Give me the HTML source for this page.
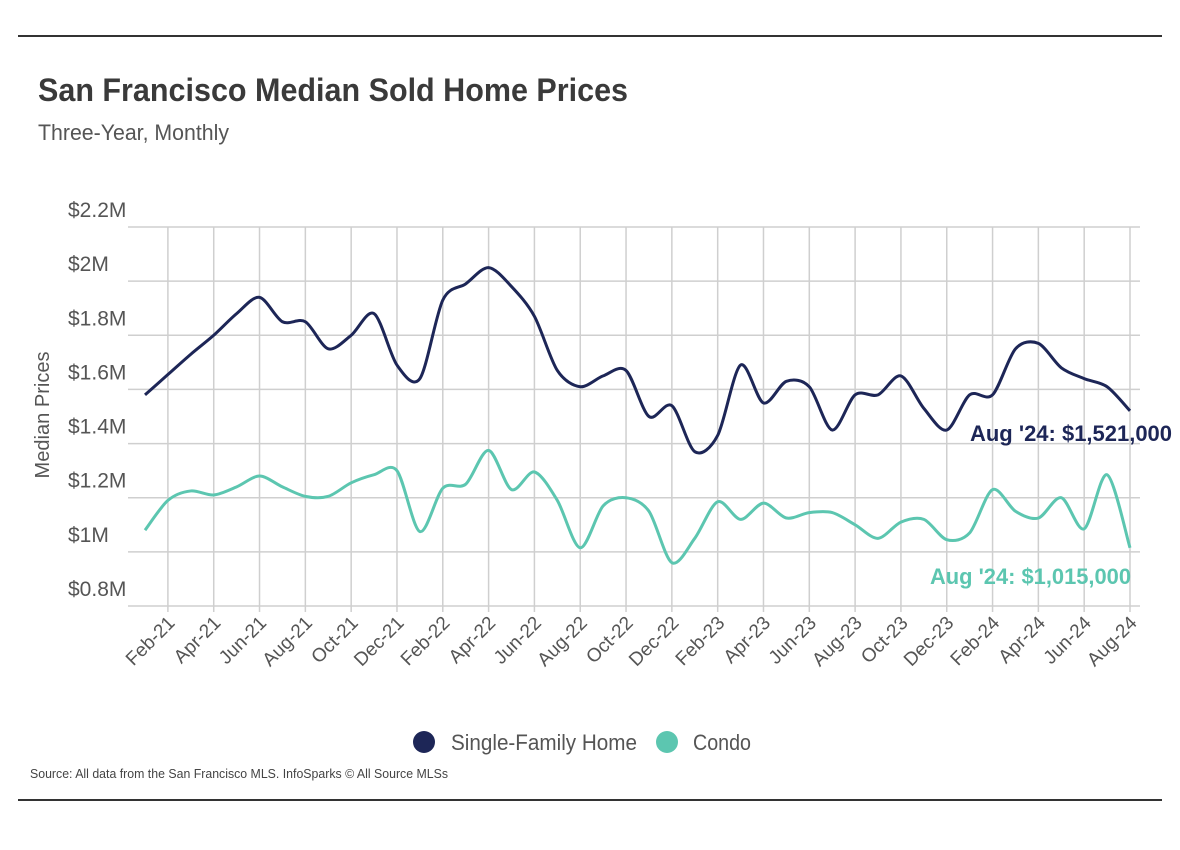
<!DOCTYPE html>
<html><head><meta charset="utf-8"><style>
html,body{margin:0;padding:0;background:#fff;width:1180px;height:850px;overflow:hidden}
text{font-family:"Liberation Sans Narrow","Liberation Sans",sans-serif}
</style></head><body>
<svg id="chart" width="1180" height="850" viewBox="0 0 1180 850" xmlns="http://www.w3.org/2000/svg">
<line x1="18" y1="36" x2="1162" y2="36" stroke="#333" stroke-width="2"/>
<line x1="18" y1="800" x2="1162" y2="800" stroke="#333" stroke-width="2"/>
<text x="38" y="101" font-size="32" font-weight="bold" fill="#3a3a3a" textLength="590" lengthAdjust="spacingAndGlyphs">San Francisco Median Sold Home Prices</text>
<text x="38" y="140" font-size="22" fill="#555" textLength="191" lengthAdjust="spacingAndGlyphs">Three-Year, Monthly</text>
<text transform="translate(49,415) rotate(-90)" text-anchor="middle" font-size="20" fill="#555" textLength="127" lengthAdjust="spacingAndGlyphs">Median Prices</text>
<g id="grid"></g><g id="yticks"></g><g id="xticks"></g><g id="series"></g>
<text x="1172" y="441" text-anchor="end" font-size="22" font-weight="bold" fill="#1d2657" textLength="202" lengthAdjust="spacingAndGlyphs">Aug '24: $1,521,000</text>
<text x="1131" y="584" text-anchor="end" font-size="22" font-weight="bold" fill="#5cc6b0" textLength="201" lengthAdjust="spacingAndGlyphs">Aug '24: $1,015,000</text>
<g>
<circle cx="424" cy="742" r="11" fill="#1d2657"/>
<text x="451" y="750" font-size="22" fill="#555" textLength="186" lengthAdjust="spacingAndGlyphs">Single-Family Home</text>
<circle cx="667" cy="742" r="11" fill="#5cc6b0"/>
<text x="693" y="750" font-size="22" fill="#555" textLength="58" lengthAdjust="spacingAndGlyphs">Condo</text>
</g>
<text x="30" y="778" font-size="13" fill="#444" textLength="418" lengthAdjust="spacingAndGlyphs">Source:  All data from the San Francisco MLS. InfoSparks © All Source MLSs</text>
</svg>
<script>
const months = ["Jan-21","Feb-21","Mar-21","Apr-21","May-21","Jun-21","Jul-21","Aug-21","Sep-21","Oct-21","Nov-21","Dec-21","Jan-22","Feb-22","Mar-22","Apr-22","May-22","Jun-22","Jul-22","Aug-22","Sep-22","Oct-22","Nov-22","Dec-22","Jan-23","Feb-23","Mar-23","Apr-23","May-23","Jun-23","Jul-23","Aug-23","Sep-23","Oct-23","Nov-23","Dec-23","Jan-24","Feb-24","Mar-24","Apr-24","May-24","Jun-24","Jul-24","Aug-24"];
const sfhValues = [1.58,1.655,1.73,1.80,1.88,1.94,1.85,1.85,1.75,1.80,1.88,1.69,1.64,1.93,1.99,2.05,1.98,1.87,1.67,1.61,1.65,1.67,1.50,1.54,1.37,1.43,1.69,1.55,1.63,1.61,1.45,1.58,1.58,1.65,1.53,1.45,1.58,1.58,1.75,1.77,1.68,1.64,1.61,1.521];
const condoValues = [1.08,1.19,1.225,1.21,1.24,1.28,1.24,1.205,1.205,1.255,1.285,1.30,1.075,1.235,1.25,1.375,1.23,1.295,1.19,1.015,1.17,1.20,1.15,0.96,1.05,1.185,1.12,1.18,1.125,1.145,1.145,1.10,1.05,1.11,1.12,1.045,1.07,1.23,1.15,1.125,1.20,1.085,1.285,1.015];
const yTicks = [0.8,1.0,1.2,1.4,1.6,1.8,2.0,2.2];
const yTickLabels = ["$0.8M","$1M","$1.2M","$1.4M","$1.6M","$1.8M","$2M","$2.2M"];
const xTickLabels = ["Feb-21","Apr-21","Jun-21","Aug-21","Oct-21","Dec-21","Feb-22","Apr-22","Jun-22","Aug-22","Oct-22","Dec-22","Feb-23","Apr-23","Jun-23","Aug-23","Oct-23","Dec-23","Feb-24","Apr-24","Jun-24","Aug-24"];

const NS="http://www.w3.org/2000/svg";
const X0=145, X1=1130, Y0=606, Y1=227;
function xScale(i){return X0+(X1-X0)*i/(months.length-1);}
function yScale(v){return Y0-(v-0.8)/(2.2-0.8)*(Y0-Y1);}
function mk(tag,attrs,parent){const e=document.createElementNS(NS,tag);for(const k in attrs)e.setAttribute(k,attrs[k]);parent.appendChild(e);return e;}
const grid=document.getElementById('grid'), yt=document.getElementById('yticks'), xt=document.getElementById('xticks'), ser=document.getElementById('series');
yTicks.forEach((v,k)=>{
  const l=mk('line',{x1:128,x2:1140,y1:yScale(v),y2:yScale(v),stroke:'#cfcfcf','stroke-width':1.5},grid);
  
  
  const t=mk('text',{x:68,y:yScale(v)-10,'font-size':21,fill:'#555'},yt);
  
  
  t.textContent=yTickLabels[k];
});
xTickLabels.forEach(lab=>{
  const i=months.indexOf(lab), x=xScale(i);
  const l=mk('line',{x1:x,x2:x,y1:Y1,y2:Y0+6,stroke:'#cfcfcf','stroke-width':1.5},grid);
  
  
  const t=mk('text',{transform:`translate(${x+8},${Y0+18}) rotate(-45)`,'text-anchor':'end','font-size':19,fill:'#555'},xt);
  
  
  t.textContent=lab;
});
function pathFor(vals){
  const p=vals.map((v,i)=>[xScale(i),yScale(v)]);
  let d=`M${p[0][0]},${p[0][1]}`;
  const tn=0.45;
  for(let i=0;i<p.length-1;i++){
    const a=p[Math.max(i-1,0)],b=p[i],c=p[i+1],e=p[Math.min(i+2,p.length-1)];
    const c1=[b[0]+(c[0]-a[0])*tn/3,b[1]+(c[1]-a[1])*tn/3];
    const c2=[c[0]-(e[0]-b[0])*tn/3,c[1]-(e[1]-b[1])*tn/3];
    d+=` C${c1[0]},${c1[1]} ${c2[0]},${c2[1]} ${c[0]},${c[1]}`;
  }
  return d;
}
const s1=mk('path',{d:pathFor(sfhValues),fill:'none',stroke:'#1d2657','stroke-width':3},ser);


const s2=mk('path',{d:pathFor(condoValues),fill:'none',stroke:'#5cc6b0','stroke-width':3},ser);


</script>
</body></html>
